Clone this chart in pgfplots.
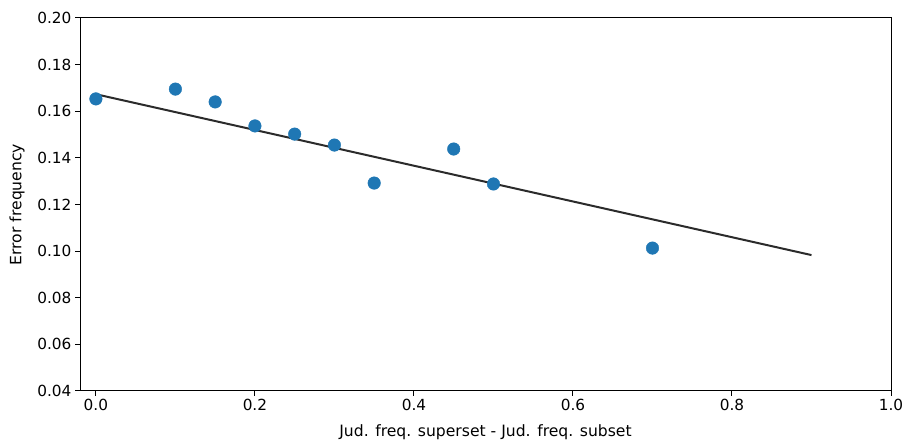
\documentclass[border=0pt]{standalone}
\usepackage{fontspec}
\setmainfont{DejaVu Sans}
\usepackage{pgfplots}
\pgfplotsset{compat=1.18}
\definecolor{mplblue}{HTML}{1F77B4}
\definecolor{linegray}{HTML}{2B2B2B}
\begin{document}
\begin{tikzpicture}
\useasboundingbox (-80pt,-55pt) rectangle (829pt,391pt);
\begin{axis}[
  scale only axis,
  width=811pt, height=373pt,
  xmin=-0.02, xmax=1.0,
  ymin=0.04, ymax=0.20,
  xtick={0,0.2,0.4,0.6,0.8,1.0},
  ytick={0.04,0.06,0.08,0.10,0.12,0.14,0.16,0.18,0.20},
  xticklabel style={/pgf/number format/.cd,fixed,fixed zerofill,precision=1},
  yticklabel style={/pgf/number format/.cd,fixed,fixed zerofill,precision=2},
  /pgf/number format/assume math mode=true,
  tick label style={font=\fontsize{15.3}{18}\selectfont},
  label style={font=\fontsize{15.6}{18}\selectfont},
  xlabel={Jud. freq. superset - Jud. freq. subset},
  ylabel={Error frequency},
  xlabel style={yshift=-7pt},
  ylabel style={yshift=6pt},
  tick align=outside,
  major tick length=5pt,
  xtick pos=bottom, ytick pos=left,
  axis line style={line width=1pt},
  tick style={line width=1pt,black},
  clip=false,
]
\addplot[only marks, mark=*, mark size=6.3pt, mark options={draw=mplblue,fill=mplblue}, color=mplblue] coordinates {
(0.00,0.1653) (0.10,0.1695) (0.15,0.1640) (0.20,0.1537) (0.25,0.1502)
(0.30,0.1455) (0.35,0.1292) (0.45,0.1438) (0.50,0.1288) (0.70,0.1013)
};
\addplot[linegray, line width=2pt] coordinates {(0,0.1673) (0.9,0.0983)};
\end{axis}
\end{tikzpicture}
\end{document}
